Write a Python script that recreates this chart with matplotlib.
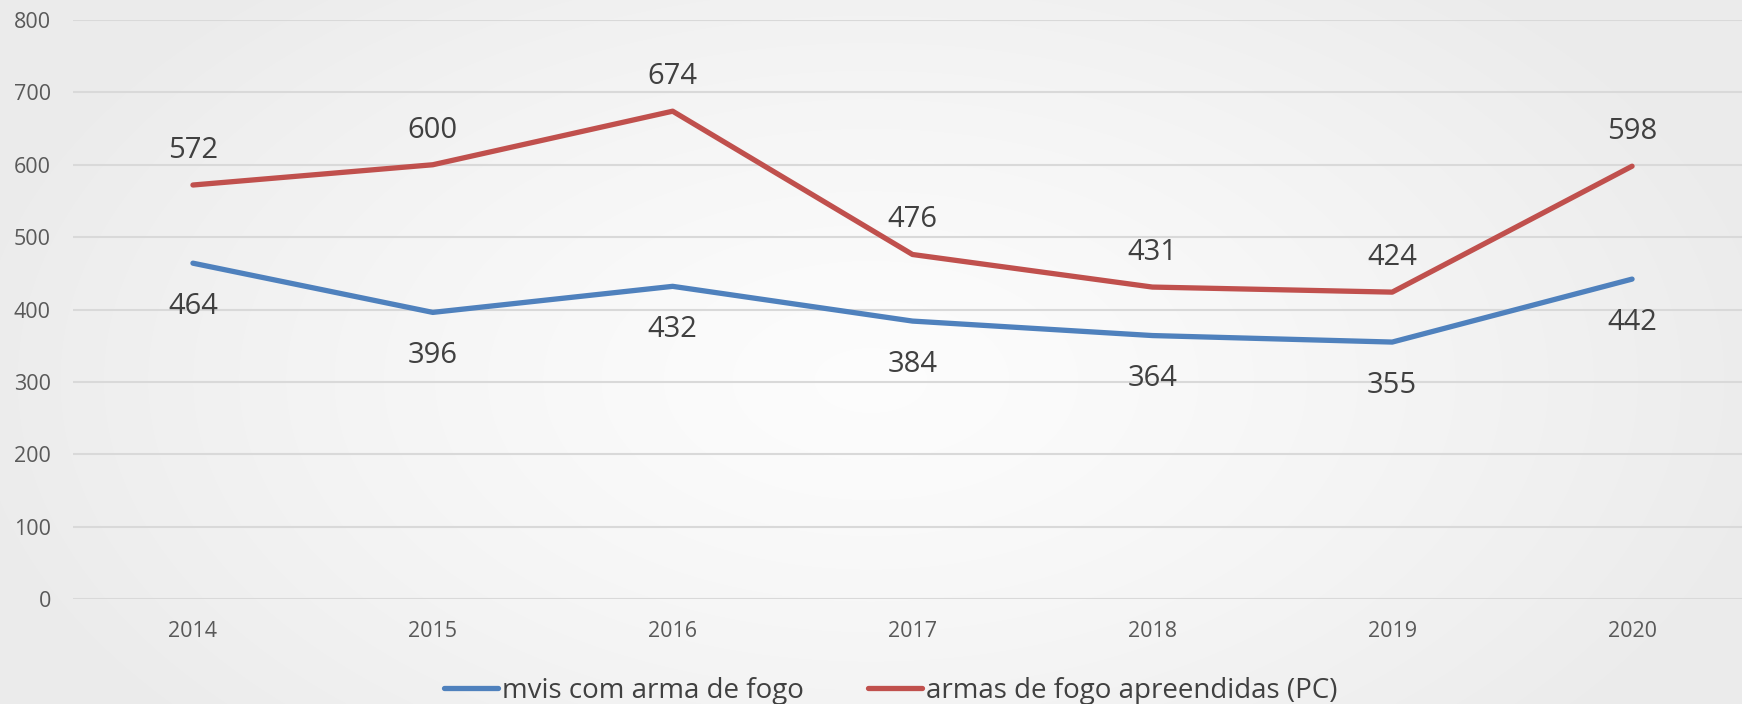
import numpy as np
import matplotlib
matplotlib.use("Agg")
import matplotlib.pyplot as plt

years = ["2014", "2015", "2016", "2017", "2018", "2019", "2020"]
mvis = [464, 396, 432, 384, 364, 355, 442]
armas = [572, 600, 674, 476, 431, 424, 598]
series_names = ["mvis com arma de fogo", "armas de fogo apreendidas (PC)"]
yticks = [0, 100, 200, 300, 400, 500, 600, 700, 800]

plt.rcParams['font.family'] = ['Open Sans', 'DejaVu Sans']

W, H = 1742, 704
fig = plt.figure(figsize=(W / 100, H / 100), dpi=100)

# background radial gradient
bg = fig.add_axes([0, 0, 1, 1], zorder=-10)
yy, xx = np.mgrid[0:H, 0:W]
r = np.sqrt(((xx - 870) / 900.0) ** 2 + ((yy - 380) / 520.0) ** 2)
r = np.clip(r, 0, 1)
c0, c1 = 0.99, 0.925
img = c0 + (c1 - c0) * r ** 1.3
bg.imshow(np.dstack([img, img, img]), aspect='auto', extent=[0, 1, 0, 1])
bg.axis('off')

ax = fig.add_axes([73 / W, 105 / H, 1679 / W, 579 / H])
ax.patch.set_alpha(0)
x = np.arange(len(years))
blue = "#4F81BD"
red = "#C0504D"
ax.plot(x, mvis, color=blue, lw=3.8, solid_capstyle='round', label=series_names[0], zorder=3)
ax.plot(x, armas, color=red, lw=3.8, solid_capstyle='round', label=series_names[1], zorder=3)

for xi, v in zip(x, mvis):
    ax.annotate(str(v), (xi, v), xytext=(0, -31), textcoords='offset points',
                ha='center', va='center', fontsize=21, color='#404040')
for xi, v in zip(x, armas):
    ax.annotate(str(v), (xi, v), xytext=(0, 25), textcoords='offset points',
                ha='center', va='center', fontsize=21, color='#404040')

ax.set_xlim(-0.5, len(years) - 0.5)
ax.set_ylim(0, 800)
ax.set_yticks(yticks)
ax.set_xticks(x)
ax.set_xticklabels(years)
ax.tick_params(axis='both', length=0, labelsize=15.5, labelcolor='#595959')
ax.tick_params(axis='x', pad=16)
ax.tick_params(axis='y', pad=16)
ax.grid(axis='y', color='#d9d9d9', lw=1.5)
ax.set_axisbelow(True)
for s in ax.spines.values():
    s.set_visible(False)

leg = ax.legend(loc='center', bbox_to_anchor=(0.487, -0.159), ncol=2, frameon=False,
                fontsize=20, handlelength=1.95, handletextpad=0.15, columnspacing=2.3,
                labelcolor='#404040', borderpad=0, borderaxespad=0)

fig.savefig("out.png", dpi=100)
